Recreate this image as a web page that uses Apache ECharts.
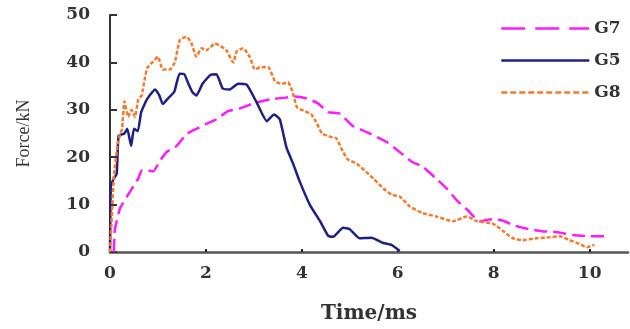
<!DOCTYPE html>
<html><head><meta charset="utf-8">
<script src="https://cdn.jsdelivr.net/npm/echarts@6/dist/echarts.min.js"></script>
<style>html,body{margin:0;padding:0;background:#fff}#c{width:630px;height:329px}</style>
</head><body><div id="c"></div>
<script>
var xTicks = [0, 2, 4, 6, 8, 10];
var yTicks = [0, 10, 20, 30, 40, 50];
var seriesNames = ['G7', 'G5', 'G8'];
var g7 = [[0.08,0],[0.1,4.6],[0.21,9.2],[0.42,12.8],[0.59,15.5],[0.66,17.2],[0.8,17.2],[0.9,17],[1.04,19.2],[1.18,21.1],[1.39,22.4],[1.6,24.9],[1.8,26],[2.0,27],[2.22,28],[2.46,29.7],[2.71,30.3],[3.0,31.4],[3.33,32.2],[3.68,32.6],[3.85,32.8],[4.1,32.4],[4.33,31.4],[4.55,29.5],[4.79,29.2],[5.06,26.6],[5.35,25.3],[5.77,23.2],[6.04,21.1],[6.3,19],[6.52,18],[6.8,15.5],[7.02,13.4],[7.23,10.9],[7.46,8.8],[7.71,6.5],[7.98,6.9],[8.2,6.6],[8.4,5.7],[8.65,5],[9.0,4.4],[9.3,4.2],[9.65,3.6],[10.0,3.3],[10.38,3.3]];
var g5 = [[0,0],[0.02,14],[0.08,15.5],[0.14,16.5],[0.18,24.5],[0.3,25],[0.36,26],[0.44,22.4],[0.5,26],[0.58,25.5],[0.65,29.5],[0.77,32.2],[0.94,34.3],[1.03,33],[1.1,31.2],[1.2,32.3],[1.34,33.8],[1.45,37.6],[1.55,37.5],[1.63,35.6],[1.72,33.7],[1.8,33],[1.93,35.5],[2.1,37.4],[2.22,37.5],[2.35,34.5],[2.5,34.3],[2.67,35.5],[2.85,35.3],[3.06,31.5],[3.27,27.6],[3.42,29],[3.54,28],[3.68,22],[3.82,18.6],[3.95,15],[4.17,9.9],[4.38,6.5],[4.55,3.4],[4.65,3.2],[4.86,5.1],[5.0,4.8],[5.2,2.9],[5.45,3],[5.7,1.9],[5.87,1.5],[6.04,0.2]];
var g8 = [[0,0],[0.05,10],[0.08,16],[0.17,23.4],[0.25,26],[0.3,31.8],[0.38,28.5],[0.45,30],[0.52,28.5],[0.59,32.2],[0.66,33],[0.73,36.8],[0.78,38.9],[0.9,40.2],[1.0,41.2],[1.1,38.5],[1.25,38.5],[1.35,40],[1.46,44.8],[1.6,45.4],[1.7,44],[1.8,41.2],[1.91,43],[2.0,42.5],[2.19,44],[2.3,43.5],[2.43,42.5],[2.57,40],[2.64,42.3],[2.78,43],[2.92,41],[3.02,38.5],[3.13,39],[3.3,39],[3.44,36],[3.58,35.5],[3.71,35.8],[3.8,34],[3.9,30.5],[4.04,29.8],[4.2,29],[4.3,27.4],[4.42,25],[4.6,24.3],[4.72,24],[4.85,21.3],[4.96,19.5],[5.15,18.6],[5.49,15.5],[5.7,13.4],[5.87,12.1],[6.04,11.7],[6.25,9.6],[6.52,8.2],[6.8,7.5],[7.15,6.5],[7.44,7.5],[7.65,6.5],[7.98,6],[8.2,4.4],[8.4,2.9],[8.6,2.5],[8.9,2.9],[9.17,3.1],[9.38,3.3],[9.58,2.5],[9.79,1.7],[9.94,1],[10.1,1.5]];

var chart = echarts.init(document.getElementById('c'), null, {renderer: 'canvas'});
var lblFont = {fontFamily: 'DejaVu Serif', fontWeight: 'bold', fontSize: 17, color: '#333'};
chart.setOption({
  animation: false,
  backgroundColor: '#fff',
  grid: {left: 110, right: 2, top: 15, bottom: 75},
  legend: {
    show: true, orient: 'vertical', left: 495, top: 15, itemWidth: 88, itemHeight: 14, itemGap: 15,
    itemStyle: {opacity: 0},
    textStyle: {fontFamily: 'DejaVu Serif', fontWeight: 'bold', fontSize: 17, color: '#333'},
    data: [
      {name: seriesNames[0], lineStyle: {type: [24, 10], width: 2.5}},
      {name: seriesNames[1], lineStyle: {width: 2.5}},
      {name: seriesNames[2], lineStyle: {type: [6, 3], width: 2.5}}
    ]
  },
  xAxis: {
    type: 'value', min: 0, max: 10.8, interval: 2,
    name: 'Time/ms', nameLocation: 'middle', nameGap: 52,
    nameTextStyle: {fontFamily: 'DejaVu Serif', fontWeight: 'bold', fontSize: 20, color: '#333'},
    axisLine: {lineStyle: {color: '#555', width: 2.5}},
    axisTick: {inside: true, length: 3, lineStyle: {color: '#222', width: 2}},
    axisLabel: Object.assign({margin: 13, showMaxLabel: false}, lblFont),
    splitLine: {show: false}
  },
  yAxis: {
    type: 'value', min: 0, max: 50, interval: 10,
    name: 'Force/kN', nameLocation: 'middle', nameGap: 77, nameRotate: 90,
    nameTextStyle: {fontFamily: 'Liberation Serif', fontSize: 18, color: '#333'},
    axisLine: {show: true, lineStyle: {color: '#333', width: 2}},
    axisTick: {show: true, inside: true, length: 7, lineStyle: {color: '#333', width: 2}},
    axisLabel: Object.assign({margin: 20}, lblFont),
    splitLine: {show: false}
  },
  series: [
    {name: seriesNames[0], type: 'line', data: g7, symbol: 'none', showSymbol: false, smooth: 0.15,
     lineStyle: {color: '#ff1aff', width: 2.5, type: [13, 6]}, itemStyle: {color: '#ff1aff'}, z: 2},
    {name: seriesNames[1], type: 'line', data: g5, symbol: 'none', showSymbol: false, smooth: 0.15,
     lineStyle: {color: '#1f1f85', width: 2.5}, itemStyle: {color: '#1f1f85'}, z: 3},
    {name: seriesNames[2], type: 'line', data: g8, symbol: 'none', showSymbol: false, smooth: 0.15,
     lineStyle: {color: '#f57a2c', width: 2.5, type: [4, 2]}, itemStyle: {color: '#f57a2c'}, z: 4}
  ]
});
</script></body></html>
